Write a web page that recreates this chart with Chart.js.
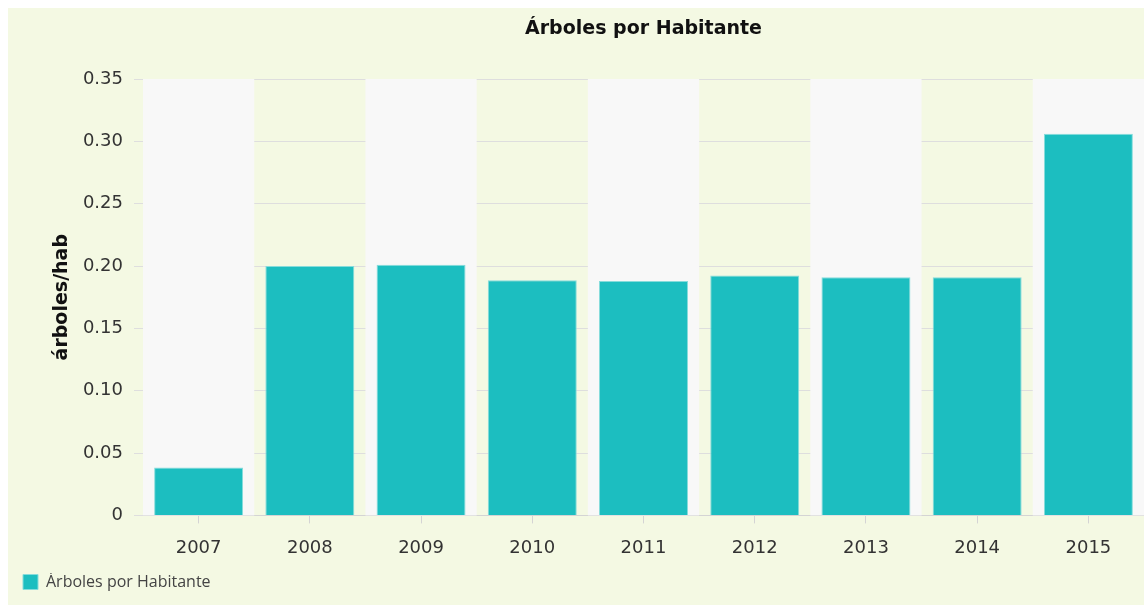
<!DOCTYPE html>
<html>
<head>
<meta charset="utf-8">
<script src="https://cdn.jsdelivr.net/npm/chart.js@4.4.0/dist/chart.umd.min.js"></script>
<style>
  html, body { margin: 0; padding: 0; background: #ffffff; }
  #wrap { position: absolute; left: 8px; top: 8px; width: 1136px; height: 597px; background: #f4f9e3; }
  canvas { display: block; }
</style>
</head>
<body>
<div id="wrap"><canvas id="chart" width="1136" height="597"></canvas></div>
<script>
// Data
const years = ['2007', '2008', '2009', '2010', '2011', '2012', '2013', '2014', '2015'];
const arbolesPorHab = [0.0385, 0.200, 0.201, 0.1885, 0.188, 0.1925, 0.191, 0.191, 0.306];
const yTickLabels = ['0', '0.05', '0.10', '0.15', '0.20', '0.25', '0.30', '0.35'];
const chartTitle = 'Árboles por Habitante';

// Alternating column bands, placed with the x scale
const bandsPlugin = {
  id: 'bands',
  beforeDatasetsDraw(chart) {
    const { ctx, chartArea, scales: { x } } = chart;
    const half = (x.getPixelForValue(1) - x.getPixelForValue(0)) / 2;
    ctx.save();
    years.forEach((_, i) => {
      if (i % 2 === 0) {
        const c = x.getPixelForValue(i);
        ctx.fillStyle = '#f8f8f8';
        ctx.fillRect(c - half, chartArea.top, half * 2, chartArea.bottom - chartArea.top);
      }
    });
    ctx.restore();
  }
};

// Title centred over the plot area rather than the whole canvas
const plotTitlePlugin = {
  id: 'plotTitle',
  afterDraw(chart) {
    const { ctx, chartArea } = chart;
    ctx.save();
    ctx.font = 'bold 19px "DejaVu Sans", Verdana, sans-serif';
    ctx.fillStyle = '#111';
    ctx.textAlign = 'center';
    ctx.textBaseline = 'middle';
    ctx.fillText(chartTitle, (chartArea.left + chartArea.right) / 2, 21);
    ctx.restore();
  }
};

Chart.defaults.font.family = '"DejaVu Sans", Verdana, sans-serif';

new Chart(document.getElementById('chart').getContext('2d'), {
  type: 'bar',
  data: {
    labels: years,
    datasets: [{
      label: 'Árboles por Habitante',
      data: arbolesPorHab,
      backgroundColor: '#1cbec0',
      borderColor: '#86dcdb',
      borderWidth: 1,
      barPercentage: 0.8,
      categoryPercentage: 1
    }]
  },
  options: {
    responsive: false,
    animation: false,
    devicePixelRatio: 1,
    layout: { padding: { left: 14, right: 0, top: 71, bottom: 5 } },
    plugins: {
      title: { display: false },
      legend: {
        position: 'bottom',
        align: 'start',
        labels: {
          boxWidth: 15,
          boxHeight: 15,
          color: '#444',
          padding: 1,
          font: { family: '"Open Sans", sans-serif', size: 16 }
        }
      },
      tooltip: { enabled: false }
    },
    scales: {
      x: {
        grid: { display: true, drawOnChartArea: false, offset: false, tickLength: 8, color: '#d4d4d4' },
        border: { color: '#d4d4d4' },
        ticks: { color: '#333', font: { size: 18 }, padding: 14 }
      },
      y: {
        min: 0,
        max: 0.35,
        afterFit(scale) { scale.width = 121; },
        grid: { color: '#dedede', tickLength: 9 },
        border: { color: '#d4d4d4' },
        ticks: {
          stepSize: 0.05,
          color: '#333',
          font: { size: 18 },
          padding: 11,
          callback: (v, i) => yTickLabels[i]
        },
        title: {
          display: true,
          text: 'árboles/hab',
          color: '#111',
          font: { size: 19, weight: 'bold' },
          padding: { top: 29, bottom: 0 }
        }
      }
    }
  },
  plugins: [bandsPlugin, plotTitlePlugin]
});
</script>
</body>
</html>
